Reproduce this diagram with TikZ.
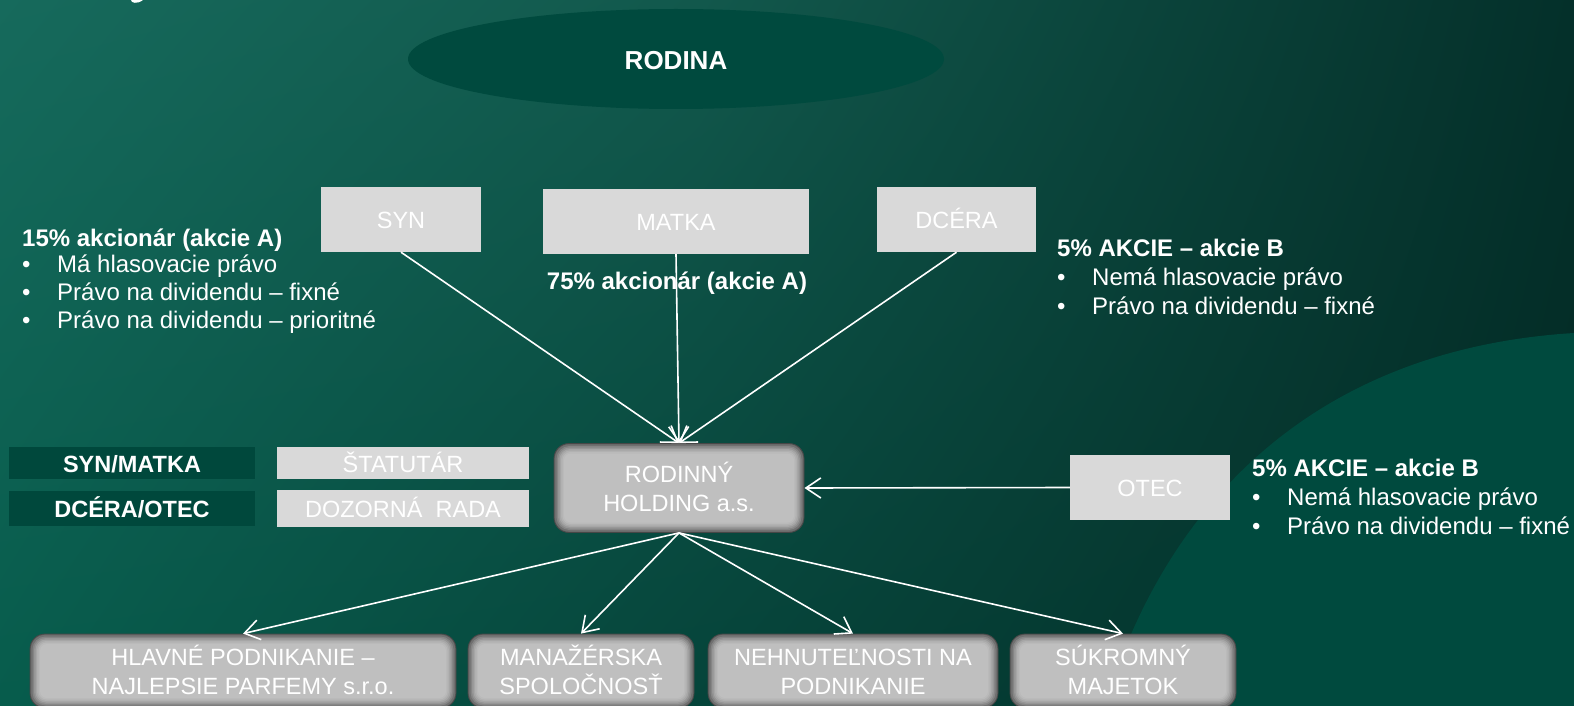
\documentclass[tikz,border=0pt]{standalone}
\usepackage{fontspec}
\setmainfont{Liberation Sans}
\usetikzlibrary{arrows.meta,shapes.geometric,shadings}
\definecolor{bgUL}{RGB}{22,106,92}
\definecolor{bgUM}{RGB}{18,88,76}
\definecolor{bgLL}{RGB}{7,92,76}
\definecolor{bgLM}{RGB}{5,68,58}
\definecolor{bgUR}{RGB}{4,48,42}
\definecolor{bgLR}{RGB}{3,42,36}
\definecolor{arcgreen}{RGB}{0,74,62}
\definecolor{ellgreen}{RGB}{0,74,62}
\definecolor{labgreen}{RGB}{0,72,60}
\definecolor{boxgray}{RGB}{217,217,217}
\newcommand{\capln}[1]{\smash{#1}\rule{0pt}{\dimexpr0.688em+2.5pt\relax}}
\tikzset{
  lightbox/.style={fill=boxgray, draw=none, text=white, inner sep=0pt,
    font=\fontsize{23.5}{29}\selectfont},
  labbox/.style={fill=labgreen, draw=none, text=white, inner sep=0pt,
    font=\bfseries\fontsize{23.5}{29}\selectfont},
  softbox/.style={rounded corners=15pt, fill=black!60, draw=black!72, line width=0.8pt,
    text=white, align=center, inner sep=0pt,
    font=\fontsize{23.5}{28.8}\selectfont,
    path picture={
      \foreach \d/\k in {1/56,2.5/48,4/41,5.5/35,7/30.5,8.5/27,10/25}{
        \pgfmathsetmacro{\rr}{15-0.8*\d}
        \fill[black!\k, rounded corners=\rr pt]
          ([shift={(\d pt,\d pt)}]path picture bounding box.south west) rectangle
          ([shift={(-\d pt,-\d pt)}]path picture bounding box.north east);
      }
    }},
  note/.style={text=white, anchor=base west, inner sep=0pt,
    font=\fontsize{24}{29}\selectfont},
  notetitle/.style={note, font=\bfseries\fontsize{24}{29}\selectfont},
  conn/.style={draw=white, line width=1.6pt, -{Straight Barb[length=15pt,width=20pt]}}
}
\newcommand{\bul}{\makebox[35pt][l]{•}}
\begin{document}
\begin{tikzpicture}[x=1pt,y=-1pt]
\useasboundingbox (0,0) rectangle (1574,706);
% background
\shade[upper left=bgUL, upper right=bgUM, lower left=bgLL, lower right=bgLM] (0,0) rectangle (701,706);
\shade[upper left=bgUM, upper right=bgUR, lower left=bgLM, lower right=bgLR] (700,0) rectangle (1574,706);
\fill[arcgreen] (1105,706) .. controls (1160,520) and (1300,350) .. (1574,333) -- (1574,706) -- cycle;
% fragment of cut-off title
\fill[white] (131,0) .. controls (131,3) and (137,4.5) .. (143,0) -- cycle;

% family ellipse
\node[ellipse, fill=ellgreen, minimum width=536pt, minimum height=100pt, inner sep=0pt,
  text=white, font=\bfseries\fontsize{26}{30}\selectfont] (rodina) at (676,59) {\capln{RODINA}};

% shareholders
\node[lightbox, minimum width=160pt, minimum height=65pt] (syn) at (401,219.5) {\capln{SYN}};
\node[lightbox, minimum width=266pt, minimum height=65pt] (matka) at (676,221.5) {\capln{MATKA}};
\node[lightbox, minimum width=159pt, minimum height=65pt] (dcera) at (956.5,219.5) {\capln{DCÉRA}};
\node[lightbox, minimum width=160pt, minimum height=65pt] (otec) at (1150,487.5) {\capln{OTEC}};

% holding
\node[softbox, minimum width=250pt, minimum height=89pt] (holding) at (679,488)
  {\capln{RODINNÝ}\\\capln{HOLDING a.s.}};

% governance
\node[labbox, minimum width=246pt, minimum height=32pt] (synmatka) at (132,463) {\capln{SYN/MATKA}};
\node[labbox, minimum width=246pt, minimum height=35pt] (dceraotec) at (132,508) {\capln{DCÉRA/OTEC}};
\node[lightbox, minimum width=252pt, minimum height=32pt] (statutar) at (403,463) {\capln{ŠTATUTÁR}};
\node[lightbox, minimum width=252pt, minimum height=37pt] (dozorna) at (403,508) {\capln{DOZORNÁ\ \ RADA}};

% subsidiaries
\node[softbox, minimum width=426pt, minimum height=74pt] (hlavne) at (243,671)
  {\capln{HLAVNÉ PODNIKANIE –}\\\capln{NAJLEPSIE PARFEMY s.r.o.}};
\node[softbox, minimum width=226pt, minimum height=74pt] (manaz) at (581,671)
  {\capln{MANAŽÉRSKA}\\\capln{SPOLOČNOSŤ}};
\node[softbox, minimum width=290pt, minimum height=74pt] (nehn) at (853,671)
  {\capln{NEHNUTEĽNOSTI NA}\\\capln{PODNIKANIE}};
\node[softbox, minimum width=226pt, minimum height=74pt] (sukr) at (1123,671)
  {\capln{SÚKROMNÝ}\\\capln{MAJETOK}};

% notes
\node[notetitle] (n1t) at (22,246) {15\% akcionár (akcie A)};
\node[note] (n1a) at (22,272.5) {\bul Má hlasovacie právo};
\node[note] (n1b) at (22,300.5) {\bul Právo na dividendu – fixné};
\node[note] (n1c) at (22,328) {\bul Právo na dividendu – prioritné};

\node[notetitle, anchor=base] (n2t) at (677,289) {75\% akcionár (akcie A)};

\node[notetitle] (n3t) at (1057,256.5) {5\% AKCIE – akcie B};
\node[note] (n3a) at (1057,285.5) {\bul Nemá hlasovacie právo};
\node[note] (n3b) at (1057,314.5) {\bul Právo na dividendu – fixné};

\node[notetitle] (n4t) at (1252,476.5) {5\% AKCIE – akcie B};
\node[note] (n4a) at (1252,505.5) {\bul Nemá hlasovacie právo};
\node[note] (n4b) at (1252,534.5) {\bul Právo na dividendu – fixné};

% connectors
\draw[conn] (syn.south) -- (holding.north);
\draw[conn] (matka.south) -- (holding.north);
\draw[conn] (dcera.south) -- (holding.north);
\draw[conn] (otec.west) -- (holding.east);
\draw[conn] (holding.south) -- (hlavne.north);
\draw[conn] (holding.south) -- (manaz.north);
\draw[conn] (holding.south) -- (nehn.north);
\draw[conn] (holding.south) -- (sukr.north);
\end{tikzpicture}
\end{document}
